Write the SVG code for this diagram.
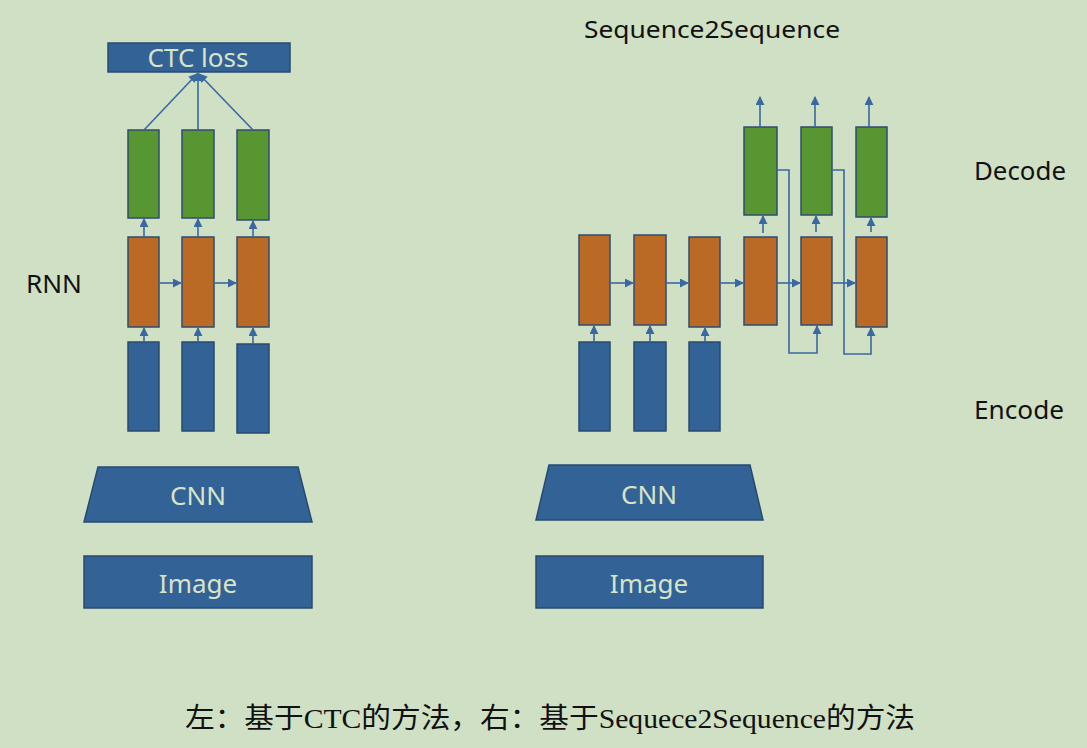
<svg xmlns="http://www.w3.org/2000/svg" width="1087" height="748" viewBox="0 0 1087 748">
<defs>
<marker id="ah" viewBox="0 0 10 10" refX="9" refY="5" markerWidth="9" markerHeight="9" markerUnits="userSpaceOnUse" orient="auto">
<path d="M0,0 L10,5 L0,10 z" fill="#3a68a0"/>
</marker>
<style>
.bl{fill:#336296;stroke:#284a70;stroke-width:1.5}
.or{fill:#ba6a24;stroke:#2f4c72;stroke-width:1.5}
.gr{fill:#589632;stroke:#2f4c72;stroke-width:1.5}
.c{stroke:#3a68a0;stroke-width:1.6;fill:none}
.a{marker-end:url(#ah)}
.lt{font-family:"Noto Sans","Open Sans",sans-serif;fill:#d9e4c6;text-anchor:middle}
.dk{font-family:"Noto Sans","Open Sans",sans-serif;fill:#111;font-size:26px}
</style>
</defs>
<rect width="1087" height="748" fill="#cfe0c4"/>

<g id="ctc"><rect class="bl" x="108" y="43" width="182" height="29"/><text class="lt" x="198" y="67" font-size="26" textLength="101" lengthAdjust="spacingAndGlyphs">CTC loss</text></g>
<g id="lg1"><rect class="gr" x="128" y="130" width="31" height="88"/></g>
<g id="lg2"><rect class="gr" x="182" y="130" width="32" height="88"/></g>
<g id="lg3"><rect class="gr" x="237" y="130" width="32" height="90"/></g>
<g id="lo1"><rect class="or" x="128" y="237" width="31" height="90"/></g>
<g id="lo2"><rect class="or" x="182" y="237" width="32" height="90"/></g>
<g id="lo3"><rect class="or" x="237" y="237" width="32" height="90"/></g>
<g id="lb1"><rect class="bl" x="128" y="342" width="31" height="89"/></g>
<g id="lb2"><rect class="bl" x="182" y="342" width="32" height="89"/></g>
<g id="lb3"><rect class="bl" x="237" y="344" width="32" height="89"/></g>
<g id="lcnn"><polygon class="bl" points="98,467 298,467 312,522 84,522"/><text class="lt" x="198" y="505" font-size="26">CNN</text></g>
<g id="limg"><rect class="bl" x="84" y="556" width="228" height="52"/><text class="lt" x="198" y="593" font-size="26">Image</text></g>

<g id="rseq" class="dk"><text x="584" y="38" font-size="24" textLength="256" lengthAdjust="spacingAndGlyphs">Sequence2Sequence</text></g>
<g id="ro1"><rect class="or" x="579" y="235" width="31" height="90"/></g>
<g id="ro2"><rect class="or" x="634" y="235" width="32" height="90"/></g>
<g id="ro3"><rect class="or" x="689" y="237" width="31" height="90"/></g>
<g id="ro4"><rect class="or" x="744" y="237" width="33" height="88"/></g>
<g id="ro5"><rect class="or" x="801" y="237" width="31" height="88"/></g>
<g id="ro6"><rect class="or" x="856" y="237" width="31" height="90"/></g>
<g id="rg1"><rect class="gr" x="744" y="127" width="33" height="88"/></g>
<g id="rg2"><rect class="gr" x="801" y="127" width="31" height="88"/></g>
<g id="rg3"><rect class="gr" x="856" y="127" width="31" height="90"/></g>
<g id="rb1"><rect class="bl" x="579" y="342" width="31" height="89"/></g>
<g id="rb2"><rect class="bl" x="634" y="342" width="32" height="89"/></g>
<g id="rb3"><rect class="bl" x="689" y="342" width="31" height="89"/></g>
<g id="rcnn"><polygon class="bl" points="549,465 750,465 763,520 536,520"/><text class="lt" x="649" y="504" font-size="26">CNN</text></g>
<g id="rimg"><rect class="bl" x="536" y="556" width="227" height="52"/><text class="lt" x="649" y="593" font-size="26">Image</text></g>

<g id="labels" class="dk">
<text x="26" y="293" textLength="56" lengthAdjust="spacingAndGlyphs">RNN</text>
<text x="974" y="180" textLength="92" lengthAdjust="spacingAndGlyphs">Decode</text>
<text x="974" y="419" textLength="90" lengthAdjust="spacingAndGlyphs">Encode</text>
</g>

<g id="connectors">
<line class="c a" x1="144" y1="130" x2="197" y2="74"/>
<line class="c a" x1="198" y1="130" x2="198" y2="73"/>
<line class="c a" x1="253" y1="130" x2="199" y2="74"/>
<line class="c a" x1="144" y1="237" x2="144" y2="219"/>
<line class="c a" x1="198" y1="237" x2="198" y2="219"/>
<line class="c a" x1="253" y1="237" x2="253" y2="221"/>
<line class="c a" x1="159" y1="283" x2="181" y2="283"/>
<line class="c a" x1="214" y1="283" x2="236" y2="283"/>
<line class="c a" x1="144" y1="342" x2="144" y2="328"/>
<line class="c a" x1="198" y1="342" x2="198" y2="328"/>
<line class="c a" x1="253" y1="344" x2="253" y2="328"/>

<line class="c a" x1="594" y1="342" x2="594" y2="326"/>
<line class="c a" x1="650" y1="342" x2="650" y2="326"/>
<line class="c a" x1="705" y1="342" x2="705" y2="328"/>
<line class="c a" x1="610" y1="283" x2="633" y2="283"/>
<line class="c a" x1="666" y1="283" x2="688" y2="283"/>
<line class="c a" x1="720" y1="283" x2="743" y2="283"/>
<line class="c a" x1="777" y1="283" x2="800" y2="283"/>
<line class="c a" x1="832" y1="283" x2="855" y2="283"/>
<line class="c a" x1="763" y1="233" x2="763" y2="216"/>
<line class="c a" x1="816" y1="232" x2="816" y2="216"/>
<line class="c a" x1="871" y1="232" x2="871" y2="218"/>
<line class="c a" x1="760" y1="127" x2="760" y2="97"/>
<line class="c a" x1="815" y1="127" x2="815" y2="97"/>
<line class="c a" x1="869" y1="127" x2="869" y2="97"/>
<polyline class="c a" points="777,170 789,170 789,353 817,353 817,326"/>
<polyline class="c a" points="832,170 844,170 844,354 871,354 871,328"/>
</g>

<g id="caption"><text x="185" y="728" font-family="'Liberation Serif','Noto Sans CJK SC',serif" font-size="28" fill="#111" textLength="730" lengthAdjust="spacingAndGlyphs">左：基于CTC的方法，右：基于Sequece2Sequence的方法</text></g>
</svg>
